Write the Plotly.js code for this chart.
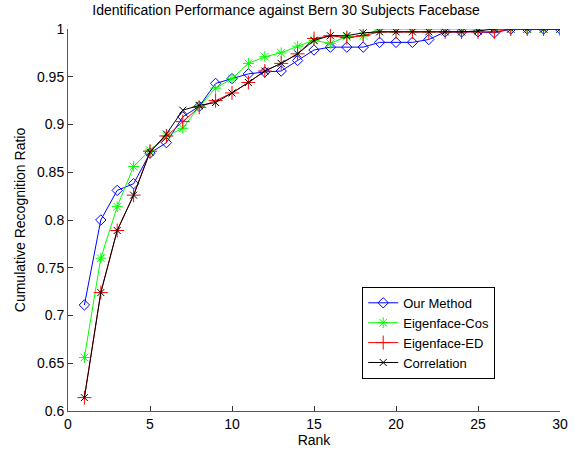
<!DOCTYPE html>
<html>
<head>
<meta charset="utf-8">
<script src="https://cdn.plot.ly/plotly-3.0.1.min.js"></script>
<style>html,body{margin:0;padding:0;background:#fff;}#chart{width:578px;height:455px;}</style>
</head>
<body>
<div id="chart"></div>
<script>
var ranks = [1,2,3,4,5,6,7,8,9,10,11,12,13,14,15,16,17,18,19,20,21,22,23,24,25,26,27,28,29,30];
var ourMethod = [0.711,0.800,0.831,0.838,0.870,0.881,0.908,0.919,0.943,0.948,0.953,0.955,0.956,0.967,0.978,0.981,0.981,0.981,0.986,0.986,0.986,0.989,0.997,0.997,0.997,0.996,1,1,1,1];
var eigenCos = [0.656,0.760,0.814,0.856,0.873,0.888,0.896,0.919,0.938,0.948,0.964,0.971,0.975,0.982,0.988,0.985,0.992,0.993,1,1,1,1,1,1,1,1,1,1,1,1];
var eigenED = [0.614,0.724,0.789,0.826,0.872,0.888,0.903,0.918,0.925,0.933,0.944,0.956,0.964,0.974,0.990,0.993,0.991,0.993,0.997,0.997,0.997,0.997,0.997,0.997,0.997,0.997,1,1,1,1];
var correlation = [0.614,0.724,0.789,0.826,0.871,0.890,0.915,0.920,0.923,0.933,0.944,0.956,0.964,0.974,0.988,0.993,0.993,0.996,0.997,0.997,0.997,0.997,0.997,0.997,0.998,1,1,1,1,1];
var seriesNames = ['Our Method','Eigenface-Cos','Eigenface-ED','Correlation'];

var font = {family: 'Liberation Sans, Arial, sans-serif', size: 14, color: '#000'};
var traces = [
  {x: ranks, y: ourMethod, name: seriesNames[0], mode: 'lines+markers',
   line: {color: '#0000ff', width: 1}, marker: {symbol: 'diamond-open', size: 8, color: '#0000ff', line: {width: 1}}},
  {x: ranks, y: eigenCos, name: seriesNames[1], mode: 'lines+markers',
   line: {color: '#00ff00', width: 1}, marker: {symbol: 'asterisk-open', size: 9, color: '#00ff00', line: {width: 1, color: '#00ff00'}}},
  {x: ranks, y: eigenED, name: seriesNames[2], mode: 'lines+markers',
   line: {color: '#ff0000', width: 1}, marker: {symbol: 'cross-thin-open', size: 10, color: '#ff0000', line: {width: 1, color: '#ff0000'}}},
  {x: ranks, y: correlation, name: seriesNames[3], mode: 'lines+markers',
   line: {color: '#000000', width: 1}, marker: {symbol: 'x-thin-open', size: 7, color: '#000000', line: {width: 1, color: '#000000'}}}
];

var layout = {
  width: 578, height: 455,
  margin: {l: 68, r: 18, t: 29, b: 44},
  paper_bgcolor: '#fff', plot_bgcolor: '#fff',
  font: font,
  showlegend: true,
  title: {text: 'Identification Performance against Bern 30 Subjects Facebase', font: {family: font.family, size: 14, color: '#000'}, x: 0.495, xanchor: 'center', y: 0.978, yanchor: 'middle'},
  xaxis: {
    range: [0, 30], tickmode: 'array', tickvals: [0,5,10,15,20,25,30],
    ticks: 'inside', ticklen: 5, tickcolor: '#333', showline: true, linecolor: '#555', linewidth: 1,
    showgrid: false, zeroline: false, mirror: false,
    title: {text: 'Rank', font: font, standoff: 2},
    tickfont: font
  },
  yaxis: {
    range: [0.6, 1], tickmode: 'array', tickvals: [0.6,0.65,0.7,0.75,0.8,0.85,0.9,0.95,1],
    ticktext: ['0.6','0.65','0.7','0.75','0.8','0.85','0.9','0.95','1'],
    ticks: 'inside', ticklen: 5, tickcolor: '#333', showline: true, linecolor: '#555', linewidth: 1,
    showgrid: false, zeroline: false, mirror: false,
    title: {text: 'Cumulative Recognition Ratio', font: font, standoff: 8},
    tickfont: font
  },
  legend: {
    x: 0.598, y: 0.325, xanchor: 'left', yanchor: 'top',
    bgcolor: '#fff', bordercolor: '#000', borderwidth: 1,
    font: {family: font.family, size: 13, color: '#000'}, tracegroupgap: 0, itemwidth: 30
  }
};

Plotly.newPlot('chart', traces, layout, {displayModeBar: false, staticPlot: true});
</script>
</body>
</html>
